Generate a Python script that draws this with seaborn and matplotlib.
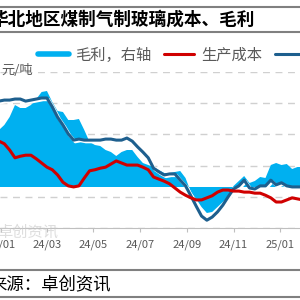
import pandas as pd
import seaborn as sns
import matplotlib.pyplot as plt
import matplotlib.dates as mdates
import matplotlib.patheffects as pe
from matplotlib.lines import Line2D

# weekly data, North China coal-gas glass (yuan/t)
dates = pd.date_range("2023-12-29", periods=58, freq="7D")

price = [2120, 2130, 2130, 2140, 2140, 2120, 2130, 2140, 2150, 2150,
         2065, 1965, 1890, 1805, 1745, 1755, 1745, 1745, 1745, 1745,
         1755, 1755, 1745, 1745, 1765, 1735, 1680, 1630, 1575, 1475,
         1440, 1410, 1420, 1420, 1360, 1305, 1210, 1110, 1015, 975,
         1005, 1055, 1120, 1200, 1275, 1305, 1360, 1285, 1275, 1305,
         1305, 1360, 1315, 1335, 1305, 1295, 1295, 1295]

cost = [1735, 1710, 1650, 1575, 1590, 1600, 1600, 1565, 1525, 1485,
        1460, 1410, 1340, 1305, 1295, 1305, 1380, 1450, 1460, 1475,
        1485, 1515, 1545, 1525, 1505, 1505, 1505, 1485, 1460, 1390,
        1370, 1350, 1325, 1285, 1245, 1215, 1190, 1170, 1170, 1190,
        1210, 1245, 1265, 1265, 1255, 1255, 1245, 1245, 1235, 1235,
        1215, 1190, 1150, 1150, 1170, 1190, 1180, 1170]

profit = [171, 186, 210, 246, 237, 237, 246, 264, 285, 288,
          255, 228, 225, 201, 201, 204, 171, 135, 126, 123,
          111, 105, 93, 105, 111, 111, 90, 72, 66, 60,
          51, 42, 42, 45, 48, 27, -15, -36, -60, -78,
          -75, -60, -45, -30, 3, 18, 33, 12, 18, 30,
          27, 66, 72, 66, 69, 54, 60, 60]

sns.set_style("white")
plt.rcParams['font.family'] = ['Noto Sans CJK SC', 'DejaVu Sans']

grey = '#595959'
c_area = '#00B0F0'
c_cost = '#D00000'
c_price = '#1E5F8E'

fig = plt.figure(figsize=(3, 3), dpi=100)
ax = fig.add_axes([0, 0.24, 1, 0.52])
ax2 = ax.twinx()
ax3 = ax.twinx()

# left axis: grid only
ax.set_ylim(900, 2400)
ax.set_yticks([900, 1200, 1500, 1800, 2100, 2400])
ax.yaxis.grid(True, color='#D0D0D0', linestyle=(0, (5, 4)), linewidth=1)
ax.tick_params(axis='y', left=False, labelleft=False)

# right axis: gross profit area
ax2.fill_between(dates, 0, profit, color=c_area, linewidth=0)
ax2.set_ylim(-123, 345)
ax2.set_yticks([])

# lines on the left-axis scale, drawn on top of the area
ax3.set_ylim(ax.get_ylim())
sns.lineplot(x=dates, y=price, ax=ax3, color=c_price, linewidth=2.2,
             path_effects=[pe.SimpleLineShadow(offset=(1.2, -1.2), shadow_color='white', alpha=1),
                           pe.Normal()])
sns.lineplot(x=dates, y=cost, ax=ax3, color=c_cost, linewidth=2.2)
ax3.set_yticks([])

for a in (ax, ax2, ax3):
    for s in ['top', 'left', 'right']:
        a.spines[s].set_visible(False)
    a.set_xlabel('')
    a.set_ylabel('')
ax2.spines['bottom'].set_visible(False)
ax3.spines['bottom'].set_visible(False)
ax.spines['bottom'].set_color('#BFBFBF')

ax.set_xlim(pd.Timestamp("2023-12-30 08:00"), pd.Timestamp("2025-01-27 08:00"))
ax.xaxis.set_major_locator(mdates.MonthLocator(bymonth=[1, 3, 5, 7, 9, 11]))
ax.xaxis.set_major_formatter(mdates.DateFormatter('%y/%m'))
ax.tick_params(axis='x', bottom=True, length=3, color='#BFBFBF', pad=5,
               labelsize=8, labelcolor=grey)

# legend
handles = [Line2D([], [], color=c_area, linewidth=4),
           Line2D([], [], color=c_cost, linewidth=2.2),
           Line2D([], [], color=c_price, linewidth=2.2)]
labels = ['毛利，右轴', '生产成本', '市场价格']
fig.legend(handles, labels, loc='center left', bbox_to_anchor=(38 / 300, 1 - 55 / 300),
           ncol=3, frameon=False, fontsize=11, labelcolor=grey, handlelength=2.0,
           handletextpad=0.45, columnspacing=0.8, borderpad=0, borderaxespad=0)

# title, unit, source, watermark
fig.text(-10 / 300, 1 - 20 / 300, '华北地区煤制气制玻璃成本、毛利', fontsize=12.7,
         weight='bold', va='center', ha='left', color='black')
fig.text(1 / 300, 1 - 70 / 300, '元/吨', fontsize=9.5, va='center', ha='left', color=grey)
fig.text(-11 / 300, 1 - 284 / 300, '来源：卓创资讯', fontsize=12.5, va='center', ha='left',
         color='black')
fig.text(-3 / 300, 1 - 232 / 300, '卓创资讯', fontsize=11, va='center', ha='left',
         color='#C8C8C8', alpha=0.6)

for y in [7, 32, 270, 297]:
    fig.add_artist(Line2D([0, 1], [1 - y / 300, 1 - y / 300], color='#808080',
                          linewidth=1.5, transform=fig.transFigure))

fig.savefig('out.png', dpi=100)
